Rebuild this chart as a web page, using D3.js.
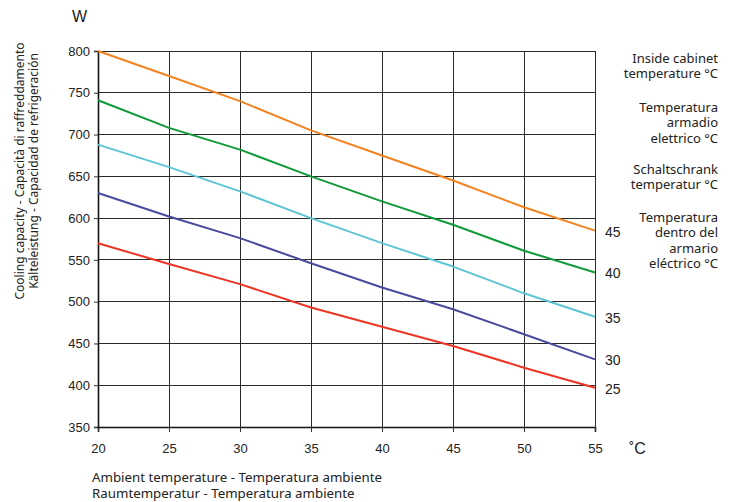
<!DOCTYPE html>
<html>
<head>
<meta charset="utf-8">
<script src="https://cdn.jsdelivr.net/npm/d3@7"></script>
<style>
body { margin: 0; background: #fff; }
svg { display: block; }
</style>
</head>
<body>
<script>
'use strict';

var ambient = [20, 25, 30, 35, 40, 45, 50, 55];
var cabinetTemps = [45, 40, 35, 30, 25];
var t45 = [800, 770, 740, 705, 675, 645, 613, 585];
var t40 = [741, 708, 682, 650, 620, 592, 561, 535];
var t35 = [688, 661, 632, 600, 570, 542, 510, 482];
var t30 = [630, 602, 576, 546, 517, 491, 461, 431];
var t25 = [570, 545, 521, 493, 470, 447, 421, 397];
var yTicks = [350, 400, 450, 500, 550, 600, 650, 700, 750, 800];
var colors = ["#f58220", "#109a3a", "#5ec5d3", "#4a4a9c", "#ee3424"];
var legendLines = [
    ["Inside cabinet", "temperature °C"],
    ["Temperatura", "armadio", "elettrico °C"],
    ["Schaltschrank", "temperatur °C"],
    ["Temperatura", "dentro del", "armario", "eléctrico °C"]
];

var series = [t45, t40, t35, t30, t25].map(function (vals, i) {
    return {
        temp: cabinetTemps[i],
        color: colors[i],
        values: vals.map(function (v, j) { return { x: ambient[j], y: v }; })
    };
});

var width = 730;
var height = 502;
var plot = { left: 98, right: 595, top: 51, bottom: 427 };

var svg = d3.select("body").append("svg")
    .attr("width", width)
    .attr("height", height);

var x = d3.scaleLinear()
    .domain([20, 55])
    .range([plot.left, plot.right]);

var y = d3.scaleLinear()
    .domain([350, 800])
    .range([plot.bottom, plot.top]);

// grid
var grid = svg.append("g")
    .attr("stroke", "#2a2a2a")
    .attr("stroke-width", 1)
    .attr("shape-rendering", "crispEdges");

grid.selectAll(".hg")
    .data(yTicks)
    .enter().append("line")
    .attr("x1", plot.left)
    .attr("x2", plot.right)
    .attr("y1", d => y(d))
    .attr("y2", d => y(d));

grid.selectAll(".vg")
    .data(ambient)
    .enter().append("line")
    .attr("x1", d => x(d))
    .attr("x2", d => x(d))
    .attr("y1", plot.top)
    .attr("y2", plot.bottom);

// axes
var xAxisGroup = svg.append("g")
    .attr("class", "xAxisGroup")
    .attr("transform", "translate(0," + plot.bottom + ")");

var xAxis = d3.axisBottom(x)
    .tickValues(ambient)
    .tickSize(5)
    .tickPadding(12);

xAxis(xAxisGroup);

var yAxisGroup = svg.append("g")
    .attr("class", "yAxisGroup")
    .attr("transform", "translate(" + plot.left + ",0)");

var yAxis = d3.axisLeft(y)
    .tickValues(yTicks)
    .tickSize(4)
    .tickPadding(4);

yAxis(yAxisGroup);

svg.selectAll(".xAxisGroup, .yAxisGroup")
    .selectAll(".domain")
    .attr("stroke", "#111")
    .attr("stroke-width", 1.6);

svg.selectAll(".xAxisGroup line, .yAxisGroup line")
    .attr("stroke", "#333");

svg.selectAll(".xAxisGroup text, .yAxisGroup text")
    .attr("font-family", "'Liberation Sans Narrow', 'Liberation Sans', Arial, sans-serif")
    .attr("font-size", 13)
    .attr("fill", "#222");

// curves
var line = d3.line()
    .x(d => x(d.x))
    .y(d => y(d.y));

svg.selectAll(".curve")
    .data(series)
    .enter().append("path")
    .attr("class", "curve")
    .attr("fill", "none")
    .attr("stroke", d => d.color)
    .attr("stroke-width", 2)
    .attr("stroke-linejoin", "round")
    .attr("d", d => line(d.values));

// end labels
svg.selectAll(".endLabel")
    .data(series)
    .enter().append("text")
    .attr("class", "endLabel")
    .attr("x", plot.right + 10)
    .attr("y", d => y(d.values[d.values.length - 1].y) + 6)
    .attr("font-family", "'Liberation Sans', Arial, sans-serif")
    .attr("font-size", 14)
    .attr("fill", "#222")
    .text(d => d.temp);

// unit labels
svg.append("text")
    .attr("x", 72)
    .attr("y", 22)
    .attr("font-family", "'Liberation Sans', Arial, sans-serif")
    .attr("font-size", 16)
    .attr("fill", "#222")
    .text("W");

svg.append("text")
    .attr("x", 629)
    .attr("y", 454)
    .attr("font-family", "'Liberation Sans', Arial, sans-serif")
    .attr("font-size", 16)
    .attr("fill", "#222")
    .text("˚C");

// axis titles
var yTitleLines = [
    "Cooling capacity - Capacità di raffreddamento",
    "Kälteleistung - Capacidad de refrigeración"
];

svg.selectAll(".yTitle")
    .data(yTitleLines)
    .enter().append("text")
    .attr("class", "yTitle")
    .attr("transform", (d, i) => "translate(" + (24 + i * 14) + ",171) rotate(-90)")
    .attr("text-anchor", "middle")
    .attr("font-family", "'Noto Sans', 'Open Sans', sans-serif")
    .attr("font-size", 12)
    .attr("fill", "#222")
    .text(d => d);

var xTitleLines = [
    "Ambient temperature - Temperatura ambiente",
    "Raumtemperatur - Temperatura ambiente"
];

svg.selectAll(".xTitle")
    .data(xTitleLines)
    .enter().append("text")
    .attr("class", "xTitle")
    .attr("x", 92)
    .attr("y", (d, i) => 482 + i * 16)
    .attr("font-family", "'Noto Sans', 'Open Sans', sans-serif")
    .attr("font-size", 13.3)
    .attr("fill", "#222")
    .text(d => d);

// legend caption on the right
var legendStarts = [63, 112, 174, 222];

legendLines.forEach(function (block, i) {
    svg.selectAll(".legend" + i)
        .data(block)
        .enter().append("text")
        .attr("class", "legend" + i)
        .attr("x", 718)
        .attr("y", (d, j) => legendStarts[i] + j * 15.3)
        .attr("text-anchor", "end")
        .attr("font-family", "'Noto Sans', 'Open Sans', sans-serif")
        .attr("font-size", 13)
        .attr("fill", "#222")
        .text(d => d);
});
</script>
</body>
</html>
